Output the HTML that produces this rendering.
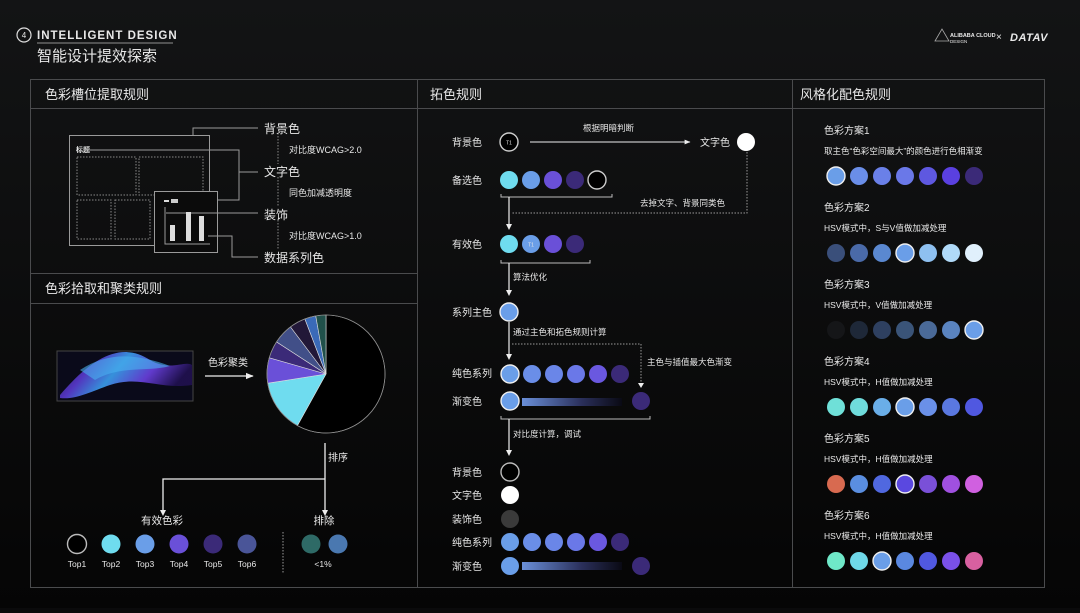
<!DOCTYPE html>
<html><head><meta charset="utf-8">
<style>
html,body{margin:0;padding:0;background:#0a0a0b;}
body{width:1080px;height:608px;overflow:hidden;font-family:"Liberation Sans","Noto Sans CJK SC",sans-serif;}
svg text{font-family:"Liberation Sans","Noto Sans CJK SC",sans-serif;fill:#e8e8e8;}
</style></head><body>
<svg id="s" width="1080" height="608" viewBox="0 0 1080 608" xmlns="http://www.w3.org/2000/svg">
<defs>
<linearGradient id="bg" x1="0" y1="0" x2="0" y2="1"><stop offset="0" stop-color="#131415"/><stop offset="1" stop-color="#050505"/></linearGradient>
<linearGradient id="gr" x1="0" x2="1"><stop offset="0" stop-color="#6a8fd8"/><stop offset="0.6" stop-color="#2a2f5a"/><stop offset="1" stop-color="#0a0a14"/></linearGradient>
<linearGradient id="img" x1="0" y1="0" x2="1" y2="0.3"><stop offset="0" stop-color="#1a1040"/><stop offset="0.3" stop-color="#5a3ad0"/><stop offset="0.5" stop-color="#3aa0f0"/><stop offset="0.75" stop-color="#6a40e0"/><stop offset="1" stop-color="#201050"/></linearGradient>
<marker id="ar" viewBox="0 0 10 10" refX="9" refY="5" markerWidth="6" markerHeight="6" orient="auto"><path d="M0,1 L10,5 L0,9z" fill="#eee"/></marker>
</defs>
<rect width="1080" height="608" fill="url(#bg)"/>
<!-- header -->
<circle cx="24" cy="35" r="7" fill="none" stroke="#ddd" stroke-width="1.2"/>
<text x="24" y="38" font-size="8" text-anchor="middle">4</text>
<text x="37" y="39" font-size="11.5" font-weight="bold" letter-spacing="1">INTELLIGENT DESIGN</text>
<line x1="37" y1="43" x2="173" y2="43" stroke="#bbb" stroke-width="0.8"/>
<text x="37" y="61" font-size="15">智能设计提效探索</text>
<path d="M935,41 L942,29 L949,41 Z" fill="none" stroke="#aaa" stroke-width="0.8"/>
<text x="950" y="37" font-size="5.5" font-weight="bold" fill="#ccc">ALIBABA CLOUD</text>
<text x="950" y="43" font-size="4.5" fill="#aaa">DESIGN</text>
<text x="996" y="40" font-size="10" fill="#ccc">×</text>
<text x="1010" y="41" font-size="11" font-weight="bold" font-style="italic" letter-spacing="0.5">DATAV</text>
<!-- frame -->
<g stroke="#4a4b4d" stroke-width="1" fill="none">
<rect x="30.5" y="79.5" width="1014" height="508"/>
<line x1="30" y1="108.5" x2="1044" y2="108.5"/>
<line x1="417.5" y1="79" x2="417.5" y2="588"/>
<line x1="792.5" y1="79" x2="792.5" y2="588"/>
<line x1="30" y1="273.5" x2="417" y2="273.5"/>
<line x1="30" y1="303.5" x2="417" y2="303.5"/>
</g>
<text x="45" y="99" font-size="13">色彩槽位提取规则</text>
<text x="430" y="99" font-size="13">拓色规则</text>
<text x="800" y="99" font-size="13">风格化配色规则</text>
<text x="45" y="293" font-size="13">色彩拾取和聚类规则</text>
<!-- panel 1 -->
<g stroke="#9a9a9a" fill="none" stroke-width="1">
<rect x="69.5" y="135.5" width="140" height="110"/>
<g stroke-dasharray="1.5,1.5" stroke="#888"><rect x="77" y="157" width="59" height="38"/><rect x="139" y="157" width="64" height="38"/><rect x="77" y="200" width="34" height="39"/><rect x="115" y="200" width="35" height="39"/></g>
<rect x="154.5" y="191.5" width="63" height="61" fill="#0b0b0b"/>
<path d="M193,135 V128 H258 M90,150 H239 V200 H218 M239,172 H258 M166,213 H258 M208,236 H232 V257 H258"/>
<path d="M165,207 V244 H210"/>
<g stroke="#888" stroke-dasharray="1.5,1.5"><path d="M278,133 V164 M278,177 V207 M278,220 V250"/></g>
</g>
<rect x="170" y="225" width="5" height="16" fill="#ddd"/><rect x="186" y="212" width="5" height="29" fill="#ddd"/><rect x="199" y="216" width="5" height="25" fill="#ddd"/>
<rect x="164" y="200" width="5" height="2" fill="#ddd"/><rect x="171" y="199" width="7" height="4" fill="#ccc"/>
<text x="76" y="152" font-size="7" font-weight="bold">标题</text>
<g font-size="12"><text x="264" y="133">背景色</text><text x="264" y="176">文字色</text><text x="264" y="219">装饰</text><text x="264" y="262">数据系列色</text></g>
<g font-size="9" fill="#ccc"><text x="289" y="153">对比度WCAG&gt;2.0</text><text x="289" y="196">同色加减透明度</text><text x="289" y="239">对比度WCAG&gt;1.0</text></g>
<!-- panel 2 -->
<rect x="57" y="351" width="136" height="50" fill="#0a0a1a" stroke="#444"/>
<path d="M60,395 C90,360 120,340 150,360 C170,372 185,360 192,365 L192,385 C160,390 140,375 110,385 C90,392 75,400 60,398Z" fill="url(#img)" opacity="0.9"/>
<path d="M80,370 C110,350 140,355 170,366 C150,372 120,365 95,380Z" fill="#4ab0f0" opacity="0.6"/>
<text x="208" y="366" font-size="10">色彩聚类</text>
<line x1="205" y1="376" x2="253" y2="376" stroke="#eee" stroke-width="1.3" marker-end="url(#ar)"/>
<g id="pie"></g>
<g stroke="#eee" stroke-width="1.3" fill="none"><path d="M325,443 V512 M325,479 H163 V512"/></g>
<path d="M160,510 L166,510 L163,516Z M322,510 L328,510 L325,516Z" fill="#eee"/>
<text x="328" y="461" font-size="10">排序</text>
<text x="162" y="524" font-size="10.5" text-anchor="middle">有效色彩</text>
<text x="324" y="524" font-size="10.5" text-anchor="middle">排除</text>
<line x1="283" y1="532" x2="283" y2="574" stroke="#999" stroke-dasharray="1.5,1.5"/>
<g id="tops"></g>
<text x="323" y="567" font-size="8.5" text-anchor="middle">&lt;1%</text>
<!-- panel 3 -->
<g font-size="10">
<text x="452" y="146">背景色</text><text x="452" y="184">备选色</text><text x="452" y="248">有效色</text><text x="452" y="316">系列主色</text>
<text x="452" y="377">纯色系列</text><text x="452" y="405">渐变色</text>
<text x="452" y="476">背景色</text><text x="452" y="499">文字色</text><text x="452" y="523">装饰色</text><text x="452" y="546">纯色系列</text><text x="452" y="570">渐变色</text>
<text x="700" y="146">文字色</text>
</g>
<g font-size="8.5" fill="#ccc">
<text x="583" y="131">根据明暗判断</text><text x="640" y="206">去掉文字、背景同类色</text>
<text x="513" y="280">算法优化</text><text x="513" y="335">通过主色和拓色规则计算</text>
<text x="647" y="365">主色与插值最大色渐变</text><text x="513" y="437">对比度计算，调试</text>
</g>
<line x1="530" y1="142" x2="690" y2="142" stroke="#eee" stroke-width="1" marker-end="url(#ar)"/>
<g stroke="#bbb" stroke-width="1" fill="none">
<path d="M501,194 V197 H612 V194 M501,197 H612"/>
<path d="M501,260 V263 H590 V260"/>
<path d="M501,416 V419 H650 V416"/>
</g>
<g stroke="#999" stroke-dasharray="1.5,1.5" fill="none"><path d="M747,152 V213 H512"/><path d="M512,344 H641 V383"/></g>
<g stroke="#eee" stroke-width="1.2" fill="none"><path d="M509,197 V225"/><path d="M509,263 V290"/><path d="M509,322 V355"/><path d="M509,419 V450"/></g>
<path d="M506,224 L512,224 L509,230Z M506,290 L512,290 L509,296Z M506,354 L512,354 L509,360Z M506,450 L512,450 L509,456Z M638,383 L644,383 L641,388Z" fill="#eee"/>
<rect x="522" y="398" width="100" height="8" fill="url(#gr)"/>
<rect x="522" y="562" width="100" height="8" fill="url(#gr)"/>
<g id="mid"></g>
<!-- panel 4 -->
<g id="right"></g>
</svg>
<script>
var NS="http://www.w3.org/2000/svg";
function el(p,t,a,txt){var e=document.createElementNS(NS,t);for(var k in a)e.setAttribute(k,a[k]);if(txt)e.textContent=txt;document.getElementById(p).appendChild(e);return e;}
function c(p,x,y,f,ring,r){el(p,"circle",{cx:x,cy:y,r:r||9,fill:f,stroke:ring?(ring===1?"#eee":ring):"none","stroke-width":ring?1.4:0});}
var cx=326,cy=374,R=59;
var sl=[[0,209,"#000"],[209,261,"#6fdcef"],[261,286,"#6a50d8"],[286,303,"#3b2a78"],[303,323,"#414f88"],[323,339,"#221838"],[339,350,"#3a6ab8"],[350,360,"#20504a"]];
function pt(a){a=a*Math.PI/180;return [cx+R*Math.sin(a),cy-R*Math.cos(a)];}
sl.forEach(function(s){var a=pt(s[0]),b=pt(s[1]);el("pie","path",{d:"M"+cx+","+cy+" L"+a[0]+","+a[1]+" A"+R+","+R+" 0 "+((s[1]-s[0])>180?1:0)+",1 "+b[0]+","+b[1]+"Z",fill:s[2],stroke:"#ddd","stroke-width":0.6});});
el("pie","circle",{cx:cx,cy:cy,r:R,fill:"none",stroke:"#888","stroke-width":0.8});
var tc=["#000","#6fdcef","#6a9ee8","#6a50d8","#3b2a78","#4a5598"];
tc.forEach(function(f,i){var x=77+i*34;c("tops",x,544,f,i==0?"#bbb":0,9.5);el("tops","text",{x:x,y:567,"font-size":8.5,"text-anchor":"middle"},"Top"+(i+1));});
c("tops",311,544,"#2e6a66",0,9.5);c("tops",338,544,"#4a78b0",0,9.5);
c("mid",509,142,"#000","#ccc");el("mid","text",{x:509,y:144.5,"font-size":5,"text-anchor":"middle"},"T1");
c("mid",746,142,"#fff");
["#6fdcef","#6a9ee8","#6a50d8","#3b2a78","#000"].forEach(function(f,i){c("mid",509+i*22,180,f,i==4?"#ccc":0);});
["#6fdcef","#6a9ee8","#6a50d8","#3b2a78"].forEach(function(f,i){c("mid",509+i*22,244,f,0);});
el("mid","text",{x:531,y:246.5,"font-size":5,"text-anchor":"middle"},"T1");
c("mid",509,312,"#6a9ee8",1);
var pure=["#6a9ee8","#6a8ee8","#6a86e8","#6a78e8","#6a58e0","#3b2a78"];
pure.forEach(function(f,i){c("mid",510+i*22,374,f,i==0?1:0);});
c("mid",510,401,"#6a9ee8",1);c("mid",641,401,"#3b2a78");
c("mid",510,472,"#000","#bbb");c("mid",510,495,"#fff");c("mid",510,519,"#3a3a3a");
pure.forEach(function(f,i){c("mid",510+i*22,542,f,0);});
c("mid",510,566,"#6a9ee8");c("mid",641,566,"#3b2a78");
var sch=[
["色彩方案1","取主色“色彩空间最大”的颜色进行色相渐变",["#6a9ee8","#6a8ee8","#6a80e8","#6a78e8","#5e58e0","#5a40e0","#3b2a78"],0],
["色彩方案2","HSV模式中，S与V值做加减处理",["#3a4f7a","#4a6aa8","#5a88d0","#6a9ee8","#8ec0f0","#b0daf8","#e0f0fc"],3],
["色彩方案3","HSV模式中，V值做加减处理",["#151618","#1e2838","#2e4060","#3a5478","#4a6a98","#5a84c0","#6a9ee8"],6],
["色彩方案4","HSV模式中，H值做加减处理",["#6fe0d8","#6fdcdc","#6aaee8","#6a9ee8","#6a90e8","#5a78e0","#5058e0"],3],
["色彩方案5","HSV模式中，H值做加减处理",["#d86a50","#5a8ee0","#5068e0","#5a48e0","#7a50d8","#a050e0","#d060e0"],3],
["色彩方案6","HSV模式中，H值做加减处理",["#6fe8c8","#6fd8e8","#6a9ee8","#5a88e0","#5058e0","#7a50e8","#d860a0"],2]];
sch.forEach(function(s,k){var y=130+k*77;el("right","text",{x:824,y:y+4,"font-size":10},s[0]);el("right","text",{x:824,y:y+24,"font-size":8.5,fill:"#ccc"},s[1]);
s[2].forEach(function(f,i){c("right",836+i*23,y+46,f,i==s[3]?1:0);});});
</script>
</body></html>
